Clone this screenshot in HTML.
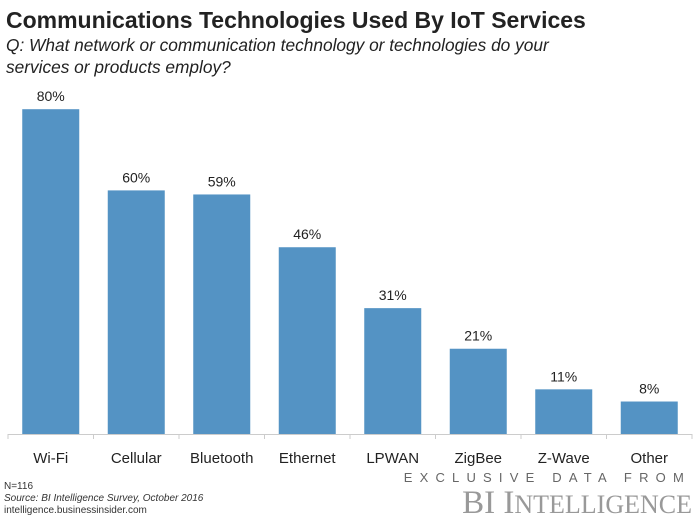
<!DOCTYPE html>
<html><head><meta charset="utf-8"><style>
body{margin:0;background:#fff;width:700px;height:517px;overflow:hidden;font-family:"Liberation Sans",sans-serif}
</style></head><body>
<svg width="700" height="517" xmlns="http://www.w3.org/2000/svg">
<text x="6" y="28" font-size="23" font-weight="bold" fill="#222">Communications Technologies Used By IoT Services</text>
<text x="6" y="51" font-size="17.3" font-style="italic" fill="#222">Q: What network or communication technology or technologies do your</text>
<text x="6" y="73" font-size="17.3" font-style="italic" fill="#222">services or products employ?</text>
<g id="plot"></g>
<text x="4" y="489" font-size="10" fill="#333">N=116</text>
<text x="4" y="501" font-size="10" font-style="italic" fill="#333">Source: BI Intelligence Survey, October 2016</text>
<text x="4" y="513" font-size="10" fill="#333">intelligence.businessinsider.com</text>
<text x="691" y="482" font-size="13" letter-spacing="7.2" text-anchor="end" fill="#666">EXCLUSIVE DATA FROM</text>
<text x="692" y="513" font-size="33" font-family="Liberation Serif,serif" text-anchor="end" fill="#999">BI I<tspan font-size="26">NTELLIGENCE</tspan></text>
</svg>
<script>
const categories=["Wi-Fi","Cellular","Bluetooth","Ethernet","LPWAN","ZigBee","Z-Wave","Other"];
const values=[80,60,59,46,31,21,11,8];
const valueLabels=["80%","60%","59%","46%","31%","21%","11%","8%"];
const NS="http://www.w3.org/2000/svg";
const g=document.getElementById('plot');
const x0=8,x1=692,base=434,step=(x1-x0)/categories.length,barW=57;
const y=v=>base-v*4.06;
function mk(t,a){const e=document.createElementNS(NS,t);for(const k in a)e.setAttribute(k,a[k]);g.appendChild(e);return e;}
categories.forEach((c,i)=>{
  const cx=x0+step*(i+0.5);
  const r=mk('rect',{x:cx-barW/2,y:y(values[i]),width:barW,height:base-y(values[i]),fill:'#5493c4'});
  
  
  const t=mk('text',{x:cx,y:y(values[i])-8,'font-size':14,'text-anchor':'middle',fill:'#222'});
  t.textContent=valueLabels[i];
  
  
  const l=mk('text',{x:cx,y:463,'font-size':15,'text-anchor':'middle',fill:'#222'});
  l.textContent=c;
  
  
});
for(let i=0;i<=categories.length;i++){
  const tk=mk('line',{x1:x0+step*i,x2:x0+step*i,y1:base,y2:base+5,stroke:'#ccc'});
  
  
}
const ax=mk('line',{x1:x0,x2:x1,y1:base+0.5,y2:base+0.5,stroke:'#ccc'});


</script>
</body></html>
